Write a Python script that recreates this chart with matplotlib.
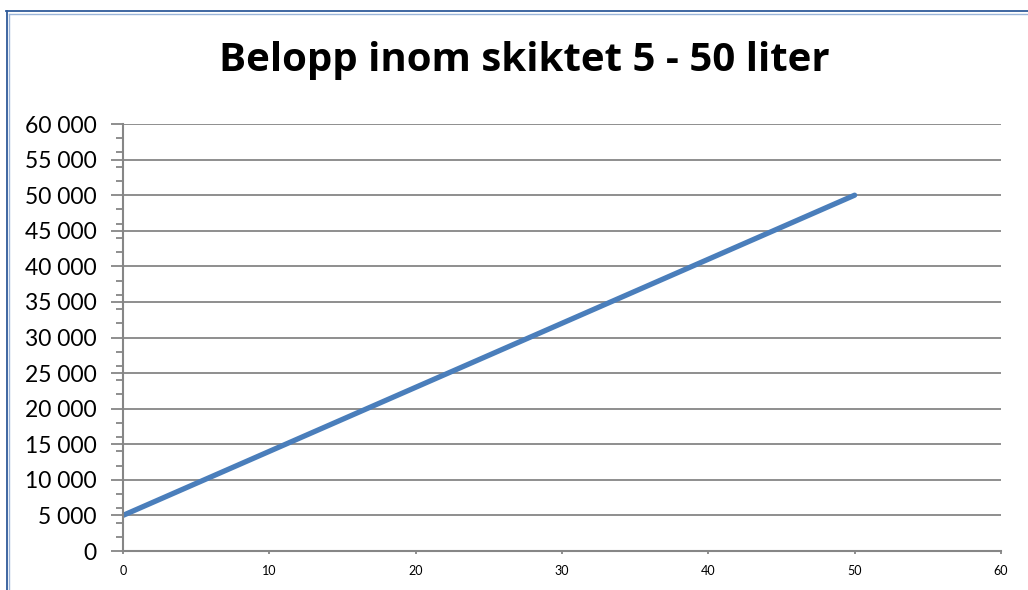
import matplotlib
matplotlib.use('Agg')
import matplotlib.pyplot as plt
from matplotlib.ticker import MultipleLocator, FuncFormatter
from matplotlib.lines import Line2D

# data
liter = [0, 50]
belopp = [5000, 50000]
title = 'Belopp inom skiktet 5 - 50 liter'

axis_gray = '#868686'
line_blue = '#4A7EBB'

plt.rcParams['font.family'] = ['Lato', 'DejaVu Sans']

fig = plt.figure(figsize=(10.28, 5.90), dpi=100)
ax = fig.add_axes([0.1196, 0.0661, 0.9737 - 0.1196, 0.7898 - 0.0661])

ax.plot(liter, belopp, color=line_blue, linewidth=3.8, solid_capstyle='round')

ax.set_xlim(0, 60)
ax.set_ylim(0, 60000)
ax.xaxis.set_major_locator(MultipleLocator(10))
ax.yaxis.set_major_locator(MultipleLocator(5000))
ax.yaxis.set_minor_locator(MultipleLocator(2000))
ax.yaxis.set_major_formatter(FuncFormatter(lambda v, p: f'{int(v):,}'.replace(',', ' ')))

ax.grid(axis='y', which='major', color=axis_gray, linewidth=1.3)
ax.set_axisbelow(True)

for s in ['top', 'right']:
    ax.spines[s].set_visible(False)
for s in ['left', 'bottom']:
    ax.spines[s].set_color(axis_gray)
    ax.spines[s].set_linewidth(1.5)

ax.tick_params(axis='y', which='major', length=9, width=1.3, color=axis_gray,
               labelsize=16.5, pad=10)
ax.tick_params(axis='y', which='minor', length=5, width=1.3, color=axis_gray)
ax.tick_params(axis='x', which='major', length=2, width=1.3, color=axis_gray,
               labelsize=9, pad=8)

fig.text(0.5097, 1 - 71 / 590, title, ha='center', va='baseline',
         fontsize=29, fontweight='bold', family=['Open Sans', 'DejaVu Sans'])

# double blue frame like the Excel chart area
fig.add_artist(Line2D([6 / 1028, 1], [1 - 11 / 590] * 2, color='#2F5B9A', lw=1.3))
fig.add_artist(Line2D([8.5 / 1028, 1], [1 - 13.5 / 590] * 2, color='#9BB5D9', lw=1.0))
fig.add_artist(Line2D([6.5 / 1028] * 2, [0, 1 - 11 / 590], color='#2F5B9A', lw=1.3))
fig.add_artist(Line2D([9 / 1028] * 2, [0, 1 - 13.5 / 590], color='#9BB5D9', lw=1.0))

fig.savefig('out.png', dpi=100)
